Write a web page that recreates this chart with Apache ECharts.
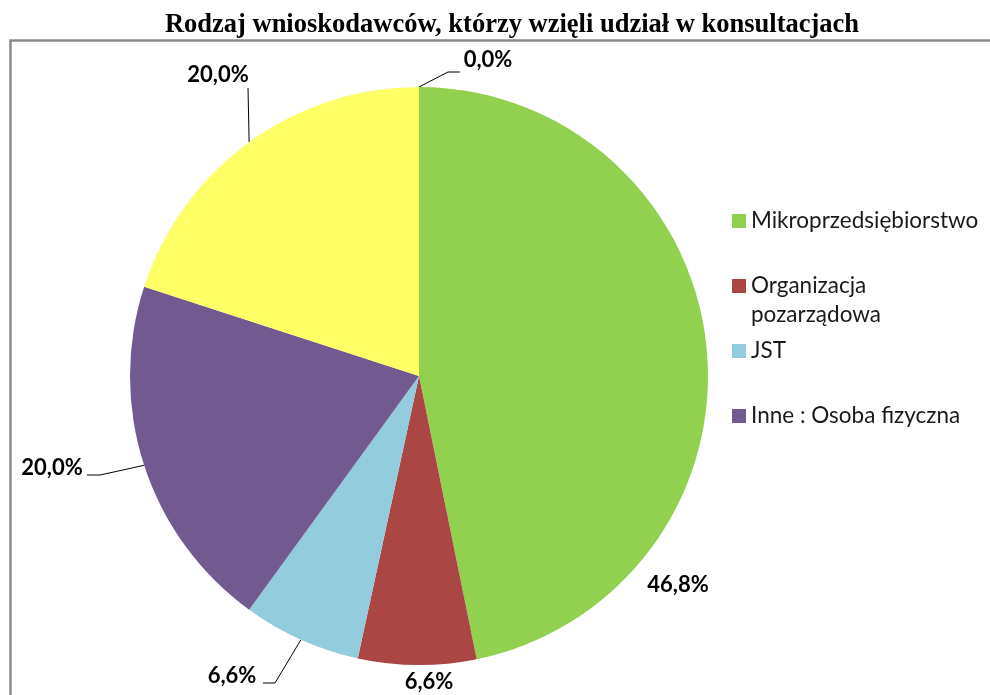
<!DOCTYPE html>
<html>
<head>
<meta charset="utf-8">
<script src="https://cdn.jsdelivr.net/npm/echarts@6/dist/echarts.min.js"></script>
<style>html,body{margin:0;padding:0;background:#fff;}#c{width:990px;height:695px;}</style>
</head>
<body>
<div id="c"></div>
<script>
var titleText = 'Rodzaj wnioskodawców, którzy wzięli udział w konsultacjach';
var categories = ['Mikroprzedsiębiorstwo', 'Organizacja\npozarządowa', 'JST', 'Inne : Osoba fizyczna', 'Inne', 'Pozostałe'];
var values = [46.8, 6.6, 6.6, 20.0, 20.0, 0.0];
var legendItems = ['Mikroprzedsiębiorstwo', 'Organizacja\npozarządowa', 'JST', 'Inne : Osoba fizyczna'];
var colors = ['#92D050', '#AA4644', '#93CDDD', '#725990', '#FFFF66', '#F79646'];

var CX = 419, CY = 376, R = 289;
// label placement (offsets from pie centre) and leader-line elbows, Excel-like
var labelPos = [[259, 209], [10, 306], [-187, 300], [-367, 92], [-201, -301], [69, -316]];
var elbows = [null, null, [[-144, 307], [-156, 307]], [[-319, 99], [-332, 99]], [[-171, -288]], [[29, -304], [41, -304]]];

var chart = echarts.init(document.getElementById('c'));
var data = categories.map(function (n, i) {
  return {
    name: n,
    value: values[i],
    itemStyle: { color: colors[i] },
    labelLine: { show: elbows[i] !== null }
  };
});
var legendCenters = [221, 286, 351, 416];
var LH = 29;
var legends = legendItems.map(function (n, i) {
  var two = n.indexOf('\n') >= 0;
  return {
    data: [{ name: n, icon: 'rect' }],
    orient: 'vertical',
    left: 732,
    padding: 0,
    top: legendCenters[i] - (two ? 1.5 * LH : 0.5 * LH),
    itemWidth: 14,
    itemHeight: 14,
    selectedMode: false,
    formatter: two ? function (name) { return '\u00a0\n' + name; } : undefined,
    textStyle: { fontFamily: 'Lato', fontSize: 22.5, color: '#1a1a1a', lineHeight: LH }
  };
});

chart.setOption({
  animation: false,
  backgroundColor: '#fff',
  title: {
    text: titleText,
    left: 507,
    textAlign: 'center',
    top: 7,
    textStyle: { fontFamily: 'Liberation Serif', fontWeight: 'bold', fontSize: 26.5, color: '#000' }
  },
  legend: legends,
  graphic: [{
    type: 'rect',
    left: 8, top: 38,
    shape: { width: 1200, height: 900 },
    style: { fill: 'none', stroke: '#8c8c8c', lineWidth: 2.5 },
    z: -1
  }],
  series: [{
    type: 'pie',
    center: [CX, CY],
    radius: R,
    startAngle: 90,
    clockwise: true,
    data: data,
    itemStyle: { borderWidth: 0 },
    label: {
      show: true,
      fontFamily: 'Lato',
      fontWeight: 'bold',
      fontSize: 22,
      color: '#000',
      formatter: function (p) { return p.value.toFixed(1).replace('.', ',') + '%'; }
    },
    labelLine: { lineStyle: { color: '#000', width: 1 } },
    labelLayout: function (p) {
      var i = p.dataIndex;
      var out = {
        x: CX + labelPos[i][0],
        y: CY + labelPos[i][1],
        align: 'center',
        verticalAlign: 'middle'
      };
      if (elbows[i] && p.labelLinePoints) {
        var pts = [p.labelLinePoints[0]];
        elbows[i].forEach(function (e) { pts.push([CX + e[0], CY + e[1]]); });
        out.labelLinePoints = pts;
      }
      return out;
    }
  }]
});
</script>
</body>
</html>
